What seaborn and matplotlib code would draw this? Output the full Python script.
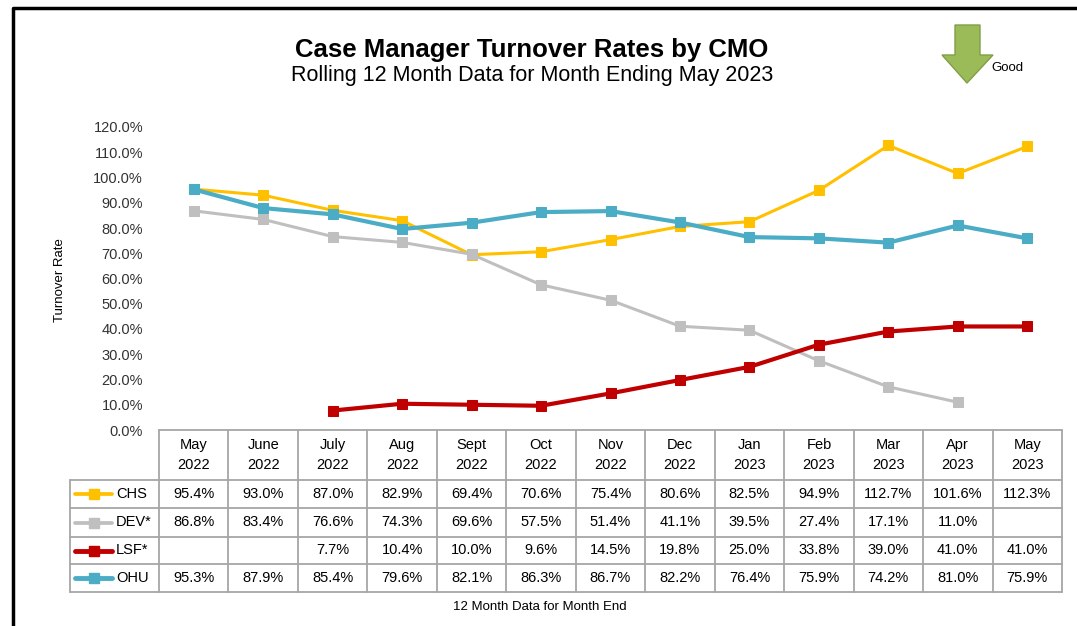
import numpy as np
import pandas as pd
import matplotlib.pyplot as plt
import matplotlib.patches as mpatches
import seaborn as sns

months = ["May\n2022", "June\n2022", "July\n2022", "Aug\n2022", "Sept\n2022", "Oct\n2022",
          "Nov\n2022", "Dec\n2022", "Jan\n2023", "Feb\n2023", "Mar\n2023", "Apr\n2023", "May\n2023"]
chs = [95.4, 93.0, 87.0, 82.9, 69.4, 70.6, 75.4, 80.6, 82.5, 94.9, 112.7, 101.6, 112.3]
dev = [86.8, 83.4, 76.6, 74.3, 69.6, 57.5, 51.4, 41.1, 39.5, 27.4, 17.1, 11.0, np.nan]
lsf = [np.nan, np.nan, 7.7, 10.4, 10.0, 9.6, 14.5, 19.8, 25.0, 33.8, 39.0, 41.0, 41.0]
ohu = [95.3, 87.9, 85.4, 79.6, 82.1, 86.3, 86.7, 82.2, 76.4, 75.9, 74.2, 81.0, 75.9]
series_names = ["CHS", "DEV*", "LSF*", "OHU"]
y_ticks = [0, 10, 20, 30, 40, 50, 60, 70, 80, 90, 100, 110, 120]

colors = {"CHS": "#FFC000", "DEV*": "#BFBFBF", "LSF*": "#C00000", "OHU": "#4BACC6"}
widths = {"CHS": 2.2, "DEV*": 2.2, "LSF*": 3.0, "OHU": 3.0}

sns.set_theme(style="white")
plt.rcParams["font.family"] = ["Liberation Sans", "DejaVu Sans"]

df = pd.DataFrame({"idx": list(range(len(months))) * 4,
                   "rate": chs + dev + lsf + ohu,
                   "cmo": np.repeat(series_names, len(months))})

W, H = 1077, 626
fig = plt.figure(figsize=(W / 100, H / 100), dpi=100)

# layout in pixels
tab_left, leg_left, tab_right = 159, 70, 1062
row_y = [430, 480, 508, 537, 564, 592]
plot_top = 127

ax = fig.add_axes([tab_left / W, 1 - row_y[0] / H, (tab_right - tab_left) / W,
                   (row_y[0] - plot_top) / H])
for name in series_names:
    sub = df[df["cmo"] == name].dropna()
    sns.lineplot(data=sub, x="idx", y="rate", ax=ax, color=colors[name],
                 linewidth=widths[name], marker="s", markersize=6.5,
                 markeredgecolor=colors[name], clip_on=False)
ax.set_xlim(-0.5, len(months) - 0.5)
ax.set_ylim(0, 120)
ax.set_yticks(y_ticks)
ax.set_yticklabels([f"{v:.1f}%" for v in y_ticks], fontsize=10.5, color="#333333")
ax.tick_params(axis="y", length=0, pad=11.5)
ax.set_xticks([])
ax.set_xlabel("")
ax.set_ylabel("")
for s in ax.spines.values():
    s.set_visible(False)
ax.patch.set_alpha(0)

# overlay in pixel coordinates for table, titles, arrow
ov = fig.add_axes([0, 0, 1, 1])
ov.set_xlim(0, W)
ov.set_ylim(H, 0)
ov.axis("off")
ov.patch.set_alpha(0)

# figure border (left + top)
ov.plot([13, 13, W], [H, 8, 8], color="black", lw=2.5, solid_capstyle="butt")

ov.text(532, 50, "Case Manager Turnover Rates by CMO", ha="center", va="center",
        fontsize=18.5, fontweight="bold", color="black")
ov.text(532, 76, "Rolling 12 Month Data for Month Ending May 2023", ha="center",
        va="center", fontsize=15.5, color="black")

ov.text(60, 280, "Turnover Rate", rotation=90, ha="center", va="center", fontsize=9.5,
        color="black")
ov.text(540, 607, "12 Month Data for Month End", ha="center", va="center", fontsize=9.5,
        color="black")

# Good arrow
arrow = mpatches.Polygon([[955, 25], [980, 25], [980, 55], [993, 55], [967, 83],
                          [942, 55], [955, 55]], closed=True, facecolor="#9BBB59",
                         edgecolor="#7F9F45", lw=1)
ov.add_patch(arrow)
ov.text(991, 68, "Good", ha="left", va="center", fontsize=9.5, color="black")

# data table
n = len(months)
col_w = (tab_right - tab_left) / n
grid = dict(color="#A6A6A6", lw=1.3)
ov.plot([tab_left, tab_right], [row_y[0], row_y[0]], **grid)
for y in row_y[1:]:
    ov.plot([leg_left, tab_right], [y, y], **grid)
for i in range(n + 1):
    x = tab_left + i * col_w
    ov.plot([x, x], [row_y[0], row_y[-1]], **grid)
ov.plot([leg_left, leg_left], [row_y[1], row_y[-1]], **grid)

for i, m in enumerate(months):
    ov.text(tab_left + (i + 0.5) * col_w, (row_y[0] + row_y[1]) / 2, m, ha="center",
            va="center", fontsize=10.5, linespacing=1.6, color="black")

values = {"CHS": chs, "DEV*": dev, "LSF*": lsf, "OHU": ohu}
for r, name in enumerate(series_names):
    yc = (row_y[r + 1] + row_y[r + 2]) / 2
    ov.plot([75, 112], [yc, yc], color=colors[name], lw=widths[name] + 0.5)
    ov.plot([93.5], [yc], marker="s", markersize=7, color=colors[name])
    ov.text(116, yc, name, ha="left", va="center", fontsize=10.5, color="black")
    for i, v in enumerate(values[name]):
        if not np.isnan(v):
            ov.text(tab_left + (i + 0.5) * col_w, yc, f"{v:.1f}%", ha="center",
                    va="center", fontsize=10.5, color="black")

fig.savefig("out.png", dpi=100)
